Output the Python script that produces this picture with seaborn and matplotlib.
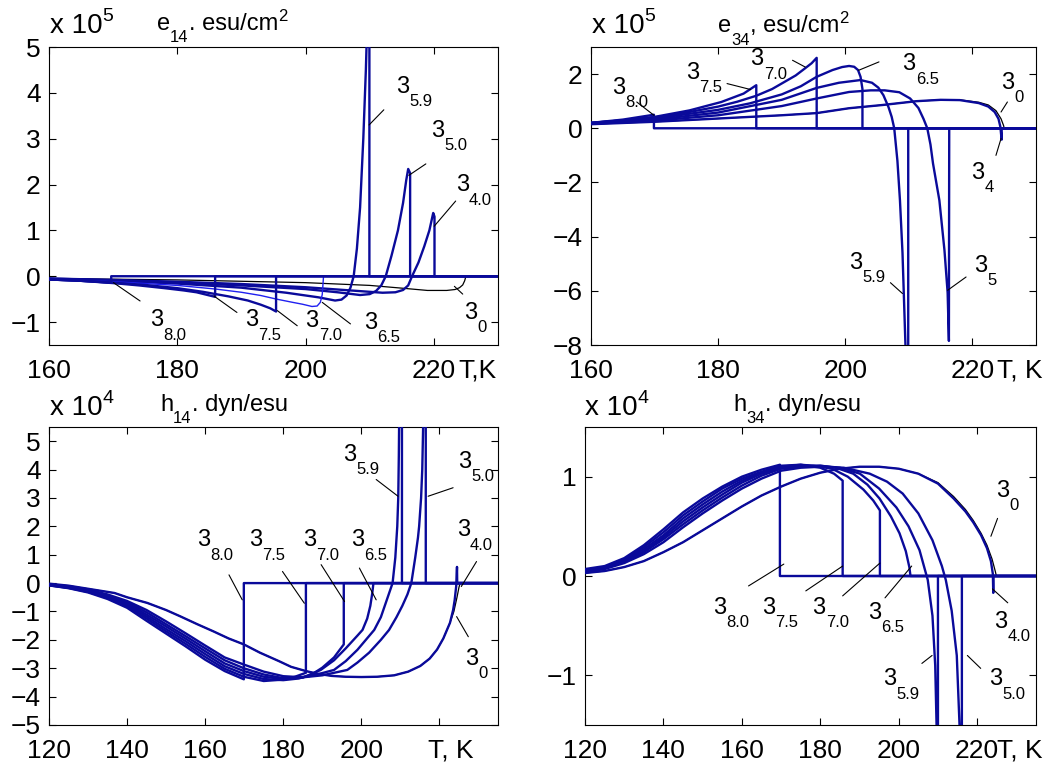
import matplotlib
matplotlib.use("Agg")
import matplotlib.pyplot as plt
import seaborn as sns

# ---------------- data ----------------
# e14 (x 1e5), T in K
E14_T_80 = [160, 165, 169.7, 169.7, 230]
E14_V_80 = [-0.07, -0.1, -0.14, 0, 0]
E14_T_75 = [160, 165, 170, 174, 178, 181, 183, 185.9, 185.9, 230]
E14_V_75 = [-0.07, -0.1, -0.15, -0.2, -0.26, -0.31, -0.35, -0.45, 0, 0]
E14_T_70 = [160, 165, 170, 175, 180, 184, 188, 191, 193, 194.5, 195.4, 195.4, 230]
E14_V_70 = [-0.07, -0.1, -0.14, -0.19, -0.26, -0.34, -0.44, -0.53, -0.62, -0.7, -0.77, 0, 0]
E14_T_65 = [160, 170, 180, 186, 190, 193, 195.5, 198, 199.5, 201, 201.8, 202.3, 202.6, 202.8, 230]
E14_V_65 = [-0.07, -0.12, -0.2, -0.28, -0.35, -0.42, -0.5, -0.57, -0.61, -0.66, -0.65, -0.57, -0.4, 0, 0]
E14_T_59 = [160, 170, 180, 190, 197, 202, 204.6, 205.6, 206.4, 207.0, 207.5, 208.0, 208.5, 209.0, 209.4, 209.7, 209.95, 209.95, 230]
E14_V_59 = [-0.06, -0.1, -0.16, -0.25, -0.36, -0.46, -0.53, -0.51, -0.42, -0.25, 0, 0.6, 1.5, 3.0, 4.5, 6, 6, 0, 0]
E14_T_50 = [160, 170, 180, 190, 200, 205, 208.5, 210, 211, 211.8, 212.5, 213.4, 214.4, 215.2, 215.7, 216.0, 216.3, 216.3, 230]
E14_V_50 = [-0.05, -0.09, -0.14, -0.2, -0.28, -0.35, -0.41, -0.39, -0.32, -0.2, 0, 0.45, 1.0, 1.6, 2.1, 2.34, 2.25, 0, 0]
E14_T_40 = [160, 170, 180, 190, 200, 207, 212, 214, 215.2, 216, 216.6, 217.6, 218.5, 219.3, 219.9, 220.1, 220.1, 230]
E14_V_40 = [-0.05, -0.08, -0.12, -0.17, -0.24, -0.31, -0.36, -0.35, -0.3, -0.2, 0, 0.3, 0.65, 1.0, 1.38, 1.3, 0, 0]
E14_T_0 = [160, 180, 200, 210, 215, 219, 222, 223.3, 224.0, 224.5, 224.8, 225, 230]
E14_V_0 = [-0.05, -0.08, -0.14, -0.2, -0.26, -0.31, -0.31, -0.29, -0.25, -0.19, -0.1, 0, 0]

# e34 (x 1e5)
E34_T_80 = [160, 165, 169.9, 169.9, 230]
E34_V_80 = [0.2, 0.32, 0.5, 0, 0]
E34_T_75 = [160, 165, 170, 175.5, 180.5, 184, 186, 186, 230]
E34_V_75 = [0.2, 0.29, 0.42, 0.66, 0.97, 1.28, 1.59, 0, 0]
E34_T_70 = [160, 165, 170, 175, 180, 183, 186, 188.5, 190.5, 192.2, 193.6, 194.7, 195.5, 195.5, 230]
E34_V_70 = [0.2, 0.29, 0.4, 0.58, 0.8, 0.98, 1.2, 1.45, 1.72, 1.95, 2.2, 2.4, 2.6, 0, 0]
E34_T_65 = [160, 170, 180, 185, 190, 193, 195.5, 198, 199.5, 200.6, 201.4, 202.0, 202.4, 202.7, 202.7, 230]
E34_V_65 = [0.19, 0.36, 0.68, 0.92, 1.25, 1.55, 1.9, 2.15, 2.26, 2.3, 2.27, 2.15, 1.9, 1.45, 0, 0]
E34_T_59 = [160, 170, 180, 190, 195.5, 199, 202.4, 204.2, 205.2, 206.0, 206.8, 207.3, 207.7, 208.2, 208.6, 209.0, 209.2, 209.6, 209.9, 209.9, 230]
E34_V_59 = [0.18, 0.32, 0.58, 1.05, 1.49, 1.68, 1.78, 1.68, 1.5, 1.22, 0.78, 0.42, 0, -1.2, -2.66, -4.6, -6.07, -9, -9, 0, 0]
E34_T_50 = [160, 170, 180, 190, 195.5, 200.6, 204, 206.2, 208.5, 210.2, 211.5, 212.3, 212.9, 213.4, 213.8, 214.8, 215.6, 216.1, 216.3, 216.35, 230]
E34_V_50 = [0.17, 0.28, 0.48, 0.82, 1.1, 1.34, 1.4, 1.4, 1.33, 1.1, 0.75, 0.35, 0, -0.6, -1.3, -2.66, -4.5, -6.07, -7.85, 0, 0]
E34_T_40 = [160, 170, 180, 190, 195.5, 200.6, 205.9, 211.2, 215, 218, 221, 222.5, 223.5, 224.1, 224.4, 224.5, 224.6, 224.6, 230]
E34_V_40 = [0.15, 0.24, 0.36, 0.48, 0.56, 0.74, 0.86, 1.0, 1.05, 1.04, 0.93, 0.8, 0.6, 0.35, 0.05, -0.2, -0.42, 0, 0]
E34_T_0 = [160, 170, 180, 190, 195.5, 200.6, 205.9, 211.2, 215, 218, 221, 222.5, 223.7, 224.5, 224.9, 225, 230]
E34_V_0 = [0.15, 0.24, 0.36, 0.48, 0.56, 0.74, 0.86, 1.0, 1.05, 1.05, 0.96, 0.86, 0.65, 0.35, 0.1, 0, 0]

# h14 (x 1e4)
H14_T_80 = [120, 125, 130, 135, 140, 145, 150, 155, 160, 165, 169.9, 169.9, 235]
H14_V_80 = [-0.08, -0.18, -0.33, -0.56, -0.87, -1.33, -1.78, -2.23, -2.7, -3.1, -3.39, 0, 0]
H14_T_75 = [120, 125, 130, 135, 140, 145, 150, 155, 160, 165, 169.9, 175, 180, 183, 185.8, 185.8, 235]
H14_V_75 = [-0.08, -0.17, -0.31, -0.52, -0.82, -1.25, -1.7, -2.14, -2.6, -3.02, -3.3, -3.45, -3.4, -3.3, -3.16, 0, 0]
H14_T_70 = [120, 125, 130, 135, 140, 145, 150, 155, 160, 165, 169.9, 175, 180, 184, 187.3, 190, 193, 195.5, 195.5, 235]
H14_V_70 = [-0.07, -0.16, -0.29, -0.49, -0.77, -1.18, -1.62, -2.05, -2.5, -2.93, -3.2, -3.38, -3.42, -3.36, -3.22, -2.98, -2.62, -2.16, 0, 0]
H14_T_65 = [120, 125, 130, 135, 140, 145, 150, 155, 160, 165, 169.9, 175, 180, 185, 189.6, 193, 196, 199, 200.3, 201.5, 202.3, 202.8, 203.1, 235]
H14_V_65 = [-0.06, -0.15, -0.27, -0.46, -0.72, -1.11, -1.53, -1.96, -2.4, -2.83, -3.1, -3.3, -3.38, -3.33, -3.06, -2.72, -2.3, -1.85, -1.65, -1.25, -0.8, -0.35, 0, 0]
H14_T_59 = [120, 125, 130, 135, 140, 145, 150, 155, 160, 165, 169.9, 175, 180, 186, 190, 193, 196, 199, 203.3, 205, 206.5, 208, 208.7, 209.2, 209.45, 209.6, 209.7, 210.4, 210.4, 235]
H14_V_59 = [-0.05, -0.14, -0.25, -0.43, -0.68, -1.03, -1.45, -1.87, -2.3, -2.72, -3.0, -3.22, -3.35, -3.3, -3.17, -3.06, -2.75, -2.35, -1.65, -1.2, -0.6, 0, 0.9, 2, 3, 4.5, 6, 6, 0, 0]
H14_T_50 = [120, 125, 130, 135, 140, 145, 150, 155, 160, 165, 169.9, 175, 180, 185, 190, 196.4, 199, 202, 205, 207.1, 209, 210.5, 211.8, 212.8, 213.8, 214.5, 214.8, 215.3, 215.6, 215.9, 216.5, 216.5, 235]
H14_V_50 = [-0.04, -0.13, -0.23, -0.4, -0.63, -0.95, -1.35, -1.77, -2.2, -2.62, -2.87, -3.12, -3.28, -3.32, -3.25, -3.06, -2.8, -2.45, -2.0, -1.65, -1.2, -0.8, -0.4, 0, 0.9, 1.6, 2, 3, 4, 6, 6, 0, 0]
H14_T_40 = [120, 125, 130, 136.8, 140, 145.2, 150, 153.6, 158, 162.1, 166, 169.9, 174, 178.9, 182, 185.8, 189, 192.4, 196, 200, 204, 208.4, 212, 215.1, 217.5, 219.4, 221, 222.7, 223.5, 223.9, 224.3, 224.5, 224.55, 235]
H14_V_40 = [-0.02, -0.09, -0.2, -0.35, -0.5, -0.7, -0.95, -1.17, -1.45, -1.7, -1.95, -2.16, -2.45, -2.75, -2.95, -3.1, -3.2, -3.27, -3.3, -3.31, -3.3, -3.25, -3.12, -2.92, -2.66, -2.34, -1.95, -1.4, -0.95, -0.6, -0.1, 0.57, 0, 0]
H14_T_0 = [120, 125, 130, 136.8, 140, 145.2, 150, 153.6, 158, 162.1, 166, 169.9, 174, 178.9, 182, 185.8, 189, 192.4, 196, 200, 204, 208.4, 212, 215.1, 217.5, 219.4, 221, 222.7, 223.7, 224.5, 225, 225.3, 235]
H14_V_0 = [-0.02, -0.09, -0.2, -0.35, -0.5, -0.7, -0.95, -1.17, -1.45, -1.7, -1.95, -2.16, -2.45, -2.75, -2.95, -3.1, -3.2, -3.27, -3.3, -3.31, -3.3, -3.25, -3.12, -2.92, -2.66, -2.34, -1.95, -1.4, -1.0, -0.5, -0.15, 0, 0]

# h34 (x 1e4)
H34_T_80 = [120, 125, 130, 135, 140, 145, 150, 155, 160, 165, 169.7, 169.7, 235]
H34_V_80 = [0.07, 0.1, 0.18, 0.31, 0.47, 0.64, 0.78, 0.9, 1.0, 1.07, 1.12, 0, 0]
H34_T_75 = [120, 125, 130, 135, 140, 145, 150, 155, 160, 165, 170, 175, 180, 183.5, 185.7, 185.7, 235]
H34_V_75 = [0.06, 0.09, 0.17, 0.29, 0.44, 0.61, 0.75, 0.88, 0.98, 1.05, 1.11, 1.12, 1.09, 1.03, 0.96, 0, 0]
H34_T_70 = [120, 125, 130, 135, 140, 145, 150, 155, 160, 165, 170, 175, 178.3, 183, 187, 191, 193.5, 195.2, 195.2, 235]
H34_V_70 = [0.06, 0.09, 0.16, 0.27, 0.41, 0.58, 0.72, 0.85, 0.96, 1.04, 1.1, 1.12, 1.11, 1.08, 1.0, 0.87, 0.76, 0.66, 0, 0]
H34_T_65 = [120, 125, 130, 135, 140, 145, 150, 155, 160, 165, 170, 175, 180, 184, 188.4, 192, 195.1, 198, 200.2, 201.8, 202.7, 203, 235]
H34_V_65 = [0.05, 0.08, 0.15, 0.25, 0.39, 0.55, 0.69, 0.82, 0.94, 1.03, 1.09, 1.11, 1.11, 1.09, 1.03, 0.92, 0.78, 0.6, 0.43, 0.25, 0.09, 0, 0]
H34_T_59 = [120, 125, 130, 135, 140, 145, 150, 155, 160, 165, 170, 175, 180, 185, 190.1, 195, 199.4, 202.5, 205.3, 207.4, 208.6, 209.3, 209.7, 210, 210, 235]
H34_V_59 = [0.05, 0.08, 0.14, 0.24, 0.37, 0.52, 0.66, 0.79, 0.91, 1.01, 1.08, 1.1, 1.11, 1.09, 1.03, 0.88, 0.69, 0.5, 0.26, -0.04, -0.4, -0.9, -1.6, -1.6, 0, 0]
H34_T_50 = [120, 125, 130, 135, 140, 145, 150, 155, 160, 165, 170, 175, 180, 186, 192.6, 197, 201, 205, 208.6, 211, 212, 213.5, 214.8, 215.6, 216.1, 216.1, 235]
H34_V_50 = [0.04, 0.07, 0.13, 0.22, 0.34, 0.49, 0.63, 0.76, 0.88, 0.98, 1.06, 1.09, 1.1, 1.09, 1.03, 0.95, 0.83, 0.63, 0.36, 0.1, -0.04, -0.35, -0.8, -1.6, -1.6, 0, 0]
H34_T_40 = [120, 125, 130, 135, 140, 145, 150, 155, 160, 165, 170, 175, 180, 185, 190, 195, 200, 205, 210, 214, 217, 219, 221, 222.5, 223.5, 224.0, 224.1, 224.15, 235]
H34_V_40 = [0.03, 0.05, 0.09, 0.15, 0.24, 0.34, 0.46, 0.58, 0.7, 0.81, 0.9, 0.98, 1.04, 1.08, 1.1, 1.1, 1.08, 1.03, 0.93, 0.78, 0.65, 0.54, 0.41, 0.28, 0.15, 0.02, -0.17, 0, 0]
H34_T_0 = [120, 125, 130, 135, 140, 145, 150, 155, 160, 165, 170, 175, 180, 185, 190, 195, 200, 205, 210, 214, 217, 219, 221, 222.5, 223.8, 224.6, 224.9, 235]
H34_V_0 = [0.03, 0.05, 0.09, 0.15, 0.24, 0.34, 0.46, 0.58, 0.7, 0.81, 0.9, 0.98, 1.04, 1.08, 1.1, 1.1, 1.08, 1.03, 0.94, 0.8, 0.67, 0.56, 0.43, 0.31, 0.17, 0.05, 0, 0]

# ---------------- style ----------------
sns.set_style("ticks")
plt.rcParams['font.family'] = ['Liberation Sans', 'DejaVu Sans']
for k in ('text.color', 'axes.labelcolor', 'xtick.color', 'ytick.color',
          'axes.edgecolor'):
    plt.rcParams[k] = 'black'
plt.rcParams['axes.linewidth'] = 0.8

DARK = '#0a0a9a'
BRIGHT = '#2020f0'
BLACK = '#000000'
LW = 1.7

W, H = 1064, 767
fig = plt.figure(figsize=(W / 100, H / 100), dpi=100)


def ax_at(l, t, r, b):
    return fig.add_axes([l / W, 1 - b / H, (r - l) / W, (b - t) / H])


ax1 = ax_at(49, 47, 498, 345)
ax2 = ax_at(591, 47, 1036, 345)
ax3 = ax_at(49, 427, 498, 725)
ax4 = ax_at(585, 427, 1036, 725)


def draw(ax, T, V, color=DARK, lw=LW, z=3):
    sns.lineplot(x=T, y=V, ax=ax, color=color, linewidth=lw, sort=False,
                 estimator=None, zorder=z)


def curves(ax, sets):
    for T, V, c, lw in sets:
        draw(ax, T, V, c, lw, 2 if c == BLACK else 3)


curves(ax1, [(E14_T_0, E14_V_0, BLACK, 0.9), (E14_T_40, E14_V_40, DARK, LW),
             (E14_T_50, E14_V_50, DARK, LW), (E14_T_59, E14_V_59, DARK, LW),
             (E14_T_65, E14_V_65, BRIGHT, 1.0), (E14_T_70, E14_V_70, DARK, LW),
             (E14_T_75, E14_V_75, DARK, LW), (E14_T_80, E14_V_80, DARK, LW)])
curves(ax2, [(E34_T_0, E34_V_0, BLACK, 0.9), (E34_T_40, E34_V_40, DARK, LW),
             (E34_T_50, E34_V_50, DARK, LW), (E34_T_59, E34_V_59, DARK, LW),
             (E34_T_65, E34_V_65, DARK, LW), (E34_T_70, E34_V_70, DARK, LW),
             (E34_T_75, E34_V_75, DARK, LW), (E34_T_80, E34_V_80, DARK, LW)])
curves(ax3, [(H14_T_0, H14_V_0, BLACK, 0.9), (H14_T_40, H14_V_40, DARK, LW),
             (H14_T_50, H14_V_50, DARK, LW), (H14_T_59, H14_V_59, DARK, LW),
             (H14_T_65, H14_V_65, DARK, LW), (H14_T_70, H14_V_70, DARK, LW),
             (H14_T_75, H14_V_75, DARK, LW), (H14_T_80, H14_V_80, DARK, LW)])
curves(ax4, [(H34_T_0, H34_V_0, BLACK, 0.9), (H34_T_40, H34_V_40, DARK, LW),
             (H34_T_50, H34_V_50, DARK, LW), (H34_T_59, H34_V_59, DARK, LW),
             (H34_T_65, H34_V_65, DARK, LW), (H34_T_70, H34_V_70, DARK, LW),
             (H34_T_75, H34_V_75, DARK, LW), (H34_T_80, H34_V_80, DARK, LW)])

# axes limits / ticks
ax1.set(xlim=(160, 230), ylim=(-1.5, 5))
ax1.set_xticks([160, 180, 200, 220])
ax1.set_yticks([-1, 0, 1, 2, 3, 4, 5])
ax2.set(xlim=(160, 230), ylim=(-8, 3))
ax2.set_xticks([160, 180, 200, 220])
ax2.set_yticks([-8, -6, -4, -2, 0, 2])
ax3.set(xlim=(120, 235), ylim=(-5, 5.5))
ax3.set_xticks([120, 140, 160, 180, 200, 220])
ax3.set_xticklabels(['120', '140', '160', '180', '200', ''])
ax3.set_yticks([-5, -4, -3, -2, -1, 0, 1, 2, 3, 4, 5])
ax4.set(xlim=(120, 235), ylim=(-1.5, 1.5))
ax4.set_xticks([120, 140, 160, 180, 200, 220])
ax4.set_yticks([-1, 0, 1])

XPAD = 10
for ax in (ax1, ax2, ax3, ax4):
    ax.set_xlabel('')
    ax.set_ylabel('')
    for s in ax.spines.values():
        s.set_visible(True)
        s.set_linewidth(0.8)
        s.set_color('black')
    ax.tick_params(direction='in', top=True, right=True, length=5, width=0.8,
                   labelsize=19, colors='black')
    ax.tick_params(axis='x', pad=XPAD)
    ax.tick_params(axis='y', pad=6)

# "T, K" axis labels
for ax, xt, s in ((ax1, 223.9, 'T,K'), (ax2, 223.9, 'T, K'),
                  (ax3, 217.1, 'T, K'), (ax4, 225.0, 'T, K')):
    ax.annotate(s, xy=(xt, 0), xycoords=ax.get_xaxis_transform(),
                xytext=(0, -XPAD), textcoords='offset points',
                ha='left', va='top', fontsize=19, annotation_clip=False)

# curve labels: (subscript, text x, text y, leader x1, y1, x2, y2)
LAB1 = [('8.0', 175.8, -1.09, 174.2, -0.54, 170.05, -0.14),
        ('7.5', 190.6, -1.09, 189.3, -0.79, 185.7, -0.43),
        ('7.0', 200.0, -1.11, 198.7, -1.08, 195.6, -0.75),
        ('6.5', 209.1, -1.15, 207.0, -1.04, 202.6, -0.57),
        ('0', 224.7, -0.93, 224.5, -0.39, 223.2, -0.22),
        ('5.9', 214.1, 4.0, 212.2, 3.63, 209.9, 3.3),
        ('5.0', 219.5, 3.04, 218.75, 2.45, 216.1, 2.2),
        ('4.0', 223.4, 1.85, 223.4, 1.64, 220.05, 1.09)]
LAB2 = [('8.0', 163.3, 1.28, 167.2, 0.97, 169.9, 0.48),
        ('7.5', 174.9, 1.83, 181.4, 1.65, 185.1, 1.43),
        ('7.0', 185.1, 2.32, 191.7, 2.51, 193.7, 2.26),
        ('6.5', 209.0, 2.14, 205.3, 2.45, 202.1, 2.14),
        ('0', 224.5, 1.46, 225.5, 0.97, 224.5, 0.6),
        ('4', 219.8, -1.86, 223.7, -1.0, 224.5, -0.38),
        ('5.9', 200.6, -5.18, 207.1, -5.7, 209.0, -6.1),
        ('5', 220.3, -5.3, 219.0, -5.49, 216.1, -5.98)]
LAB3 = [('8.0', 158.0, 1.29, 166.1, 0.29, 169.5, -0.59),
        ('7.5', 171.2, 1.29, 179.8, 0.41, 185.4, -0.71),
        ('7.0', 185.0, 1.29, 189.7, 0.65, 195.7, -0.65),
        ('6.5', 197.4, 1.29, 199.5, 0.53, 203.8, -0.59),
        ('5.9', 195.2, 4.3, 203.8, 3.65, 209.4, 3.06),
        ('5.0', 224.8, 4.06, 223.5, 3.36, 217.1, 3.06),
        ('4.0', 224.4, 1.65, 229.5, 0.76, 225.6, -0.12),
        ('0', 226.5, -2.89, 227.4, -1.89, 224.4, -1.18)]
LAB4 = [('8.0', 152.7, -0.38, 161.7, -0.1, 170.7, 0.12),
        ('7.5', 165.1, -0.38, 176.3, -0.15, 185.7, 0.1),
        ('7.0', 178.0, -0.38, 185.7, -0.2, 195.2, 0.13),
        ('6.5', 192.2, -0.43, 196.5, -0.22, 203.3, 0.1),
        ('4.0', 224.4, -0.52, 227.8, -0.27, 223.9, -0.13),
        ('0', 224.8, 0.8, 225.2, 0.58, 223.5, 0.4),
        ('5.9', 196.0, -1.1, 205.9, -0.88, 208.5, -0.8),
        ('5.0', 223.1, -1.1, 220.9, -0.93, 217.5, -0.8)]

for ax, labs in ((ax1, LAB1), (ax2, LAB2), (ax3, LAB3), (ax4, LAB4)):
    for sub, tx, ty, x1, y1, x2, y2 in labs:
        ax.text(tx, ty, '3', fontsize=17, ha='left', va='baseline', zorder=5)
        ax.annotate(sub, xy=(tx, ty), xytext=(9.6, -9.6),
                    textcoords='offset points', fontsize=12, ha='left',
                    va='baseline', annotation_clip=False, zorder=5)
        ax.plot([x1, x2], [y1, y2], color='k', lw=0.8, zorder=4)

# header texts (multiplier + quantity), composed piecewise
renderer = fig.canvas.get_renderer()


def chain(x_px, base_px, pieces):
    x = x_px
    for s, size, dy in pieces:
        t = fig.text(x / W, (H - base_px + dy) / H, s, fontsize=size,
                     ha='left', va='baseline')
        x = t.get_window_extent(renderer).x1


chain(50, 33, [('x 10', 20, 0), ('5', 14, 12)])
chain(592, 33, [('x 10', 20, 0), ('5', 14, 12)])
chain(50, 415, [('x 10', 20, 0), ('4', 14, 12)])
chain(585, 415, [('x 10', 20, 0), ('4', 14, 12)])
chain(157, 30, [('e', 17, 0), ('14', 12, -12), ('. esu/cm', 17, 0), ('2', 12, 9)])
chain(718, 32, [('e', 17, 0), ('34', 12, -13), (', esu/cm', 17, 0), ('2', 12, 9)])
chain(160, 411, [('h', 17, 0), ('14', 12, -12), ('. dyn/esu', 17, 0)])
chain(733, 411, [('h', 17, 0), ('34', 12, -12), ('. dyn/esu', 17, 0)])

fig.savefig('out.png', dpi=100)
